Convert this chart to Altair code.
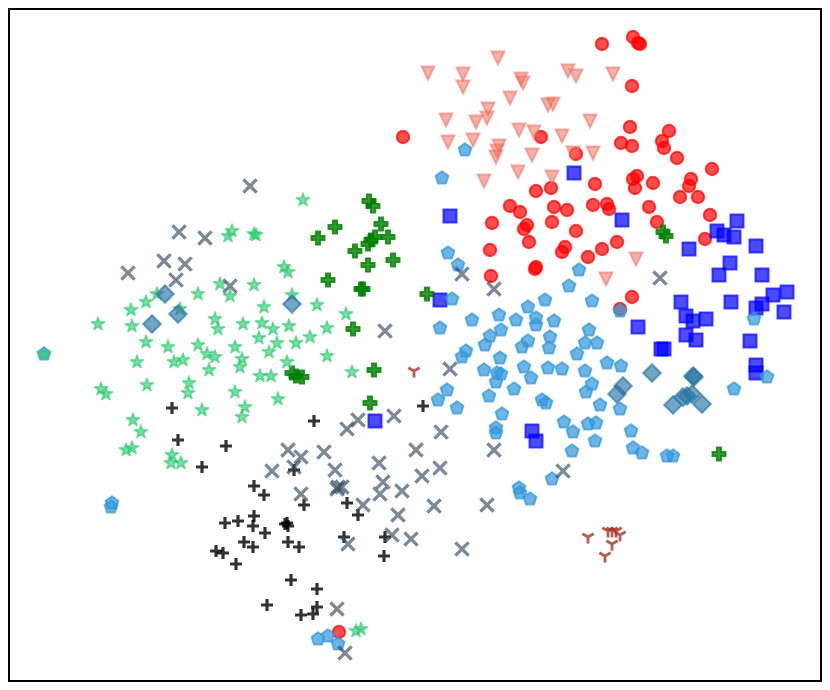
import altair as alt
import pandas as pd

red_x = [403,602,633,638,640,632,630,669,662,664,621,632,541,576,677,712,637,633,635,653,691,689,680,698,595,551,536,510,520,554,567,593,607,609,649,710,657,705,492,527,524,552,576,490,529,617,602,588,565,562,536,535,491,632,620,339]
red_y = [137,44,37,43,44,86,127,131,141,148,143,146,137,154,158,169,176,179,188,183,179,186,197,197,184,188,191,206,212,207,210,205,204,209,207,215,222,239,223,225,229,222,231,250,242,242,249,257,247,252,267,269,276,297,309,632]

square_x = [450,440,574,622,689,717,724,734,737,756,719,730,762,681,686,693,706,686,696,638,661,664,731,756,762,773,787,784,750,756,756,532,536,375]
square_y = [216,300,173,220,249,231,235,237,221,246,275,263,275,302,316,321,319,335,340,327,349,349,302,308,304,295,292,312,341,365,373,431,441,421]

tri_x = [498,428,463,463,521,523,568,576,613,510,548,553,488,487,446,476,519,534,590,562,448,473,499,497,496,532,573,593,518,484,552,636,606]
tri_y = [58,73,74,87,79,83,71,76,74,98,105,104,109,118,120,122,130,132,121,136,142,140,146,151,157,155,153,153,172,181,177,259,279]

cross_x = [369,373,381,335,318,388,375,371,368,355,368,393,328,361,363,427,353,374,292,296,302,370,663,666,719]
cross_y = [201,206,224,227,238,237,237,240,244,251,265,260,280,289,289,294,329,370,373,376,377,403,232,236,454]

penta_x = [44,465,442,448,458,579,569,452,545,592,620,528,499,472,440,516,536,536,554,501,490,485,589,550,549,528,522,585,597,577,466,462,500,484,524,548,562,585,607,621,497,501,496,531,514,489,592,586,447,438,457,542,546,600,620,502,564,573,588,596,595,631,572,496,496,633,642,667,673,734,767,754,552,519,520,530,112,111,318,328,338]
penta_y = [354,150,178,253,265,270,286,299,300,301,311,307,315,320,328,320,318,325,321,330,336,345,330,337,348,341,347,343,343,354,351,357,358,370,367,368,369,371,363,366,373,374,382,378,389,396,384,392,390,400,408,400,403,405,409,414,422,432,424,423,441,431,451,428,433,448,453,456,456,389,377,319,479,488,493,499,503,507,639,636,644]

star_x = [44,98,131,132,146,157,146,168,137,174,183,198,207,215,209,235,242,240,259,269,277,262,273,243,215,218,264,198,220,230,254,180,228,232,254,256,260,271,303,284,288,292,317,346,289,327,310,296,287,327,352,101,106,147,189,188,235,202,245,242,278,133,141,126,132,172,171,181,356,361]
star_y = [354,324,310,326,302,294,342,347,362,362,360,345,354,357,370,347,359,367,338,352,343,323,329,324,319,329,307,294,284,296,285,309,236,231,234,235,376,376,200,267,272,295,305,314,326,328,337,343,362,356,372,389,394,385,383,393,392,410,407,417,399,420,432,450,448,455,463,463,631,629]

plus_x = [172,178,226,202,314,294,254,264,304,347,358,254,238,225,253,265,285,288,287,244,253,288,299,216,223,236,344,385,384,291,317,267,317,301,313,423]
plus_y = [408,440,446,467,421,470,486,495,505,503,515,516,521,523,526,533,524,526,523,542,547,542,547,551,553,564,537,537,556,580,589,605,607,615,614,406]

ex_x = [250,179,205,164,185,128,176,230,385,462,494,450,660,358,347,288,301,294,272,324,335,379,383,380,301,338,342,337,363,348,337,345,394,441,416,440,422,402,434,398,392,411,462,487,494,563]
ex_y = [186,232,238,261,264,273,280,286,331,274,289,369,278,420,429,450,457,467,471,452,470,463,482,494,494,487,487,489,505,544,609,653,416,432,450,468,476,491,506,515,535,539,549,505,450,471]

diamond_x = [165,178,152,292,652,623,617,693,694,673,683,692,702,687]
diamond_y = [294,314,324,304,373,386,394,376,377,405,397,394,404,396]

fork_x = [414,588,608,612,616,620,612,605]
fork_y = [371,537,531,531,531,535,544,556]

PENTA = "M0,-1L.951,-.309L.588,.809L-.588,.809L-.951,-.309Z"
STAR = "M0,-1L.225,-.309L.951,-.309L.363,.118L.588,.809L0,.382L-.588,.809L-.363,.118L-.951,-.309L-.225,-.309Z"
SQUARE = "M-1,-1L1,-1L1,1L-1,1Z"
TRI = "M-1,-1L1,-1L0,1Z"
CROSS = "M-1,-.33L-.33,-.33L-.33,-1L.33,-1L.33,-.33L1,-.33L1,.33L.33,.33L.33,1L-.33,1L-.33,.33L-1,.33Z"
PLUS = "M-1,0L1,0M0,-1L0,1"
EX = "M-1,-1L1,1M-1,1L1,-1"
DIAMOND = "M0,-1L1,0L0,1L-1,0Z"
FORK = "M0,0L0,1M0,0L.866,-.5M0,0L-.866,-.5"

W, H = 812, 672
x_scale = alt.Scale(domain=[9, 9 + W], nice=False, zero=False)
y_scale = alt.Scale(domain=[9 + H, 9], nice=False, zero=False)


def layer(xs, ys, shape, size, color, alpha, sw, filled=True, join="miter"):
    df = pd.DataFrame({"x": xs, "y": ys})
    kw = dict(shape=shape, size=size, stroke=color, strokeWidth=sw, strokeOpacity=alpha,
              opacity=1, filled=filled, strokeJoin=join)
    if filled:
        kw.update(fill=color, fillOpacity=alpha)
    return alt.Chart(df).mark_point(**kw).encode(
        x=alt.X("x:Q", scale=x_scale, axis=None),
        y=alt.Y("y:Q", scale=y_scale, axis=None),
    )


chart = alt.layer(
    layer(red_x, red_y, "circle", 156, "#ff0000", 0.7, 2),
    layer(square_x, square_y, SQUARE, 169, "#0000ff", 0.7, 2),
    layer(tri_x, tri_y, TRI, 165, "#ec7063", 0.55, 2),
    layer(cross_x, cross_y, CROSS, 175, "#008000", 0.8, 1.8),
    layer(penta_x, penta_y, PENTA, 180, "#3498db", 0.72, 2, join="round"),
    layer(star_x, star_y, STAR, 185, "#2ecc71", 0.62, 1.8, join="round"),
    layer(plus_x, plus_y, PLUS, 144, "#000000", 0.8, 3.2, filled=False),
    layer(ex_x, ex_y, EX, 175, "#34495e", 0.65, 3.4, filled=False),
    layer(diamond_x, diamond_y, DIAMOND, 310, "#2874a6", 0.65, 2),
    layer(fork_x, fork_y, FORK, 169, "#a93226", 0.8, 2.8, filled=False),
).properties(
    width=W, height=H, padding={"left": 1, "top": 1, "right": 1, "bottom": 1}
).configure_view(stroke="#000000", strokeWidth=2)

chart.save("out.html", embed_options={"renderer": "svg", "actions": False})
